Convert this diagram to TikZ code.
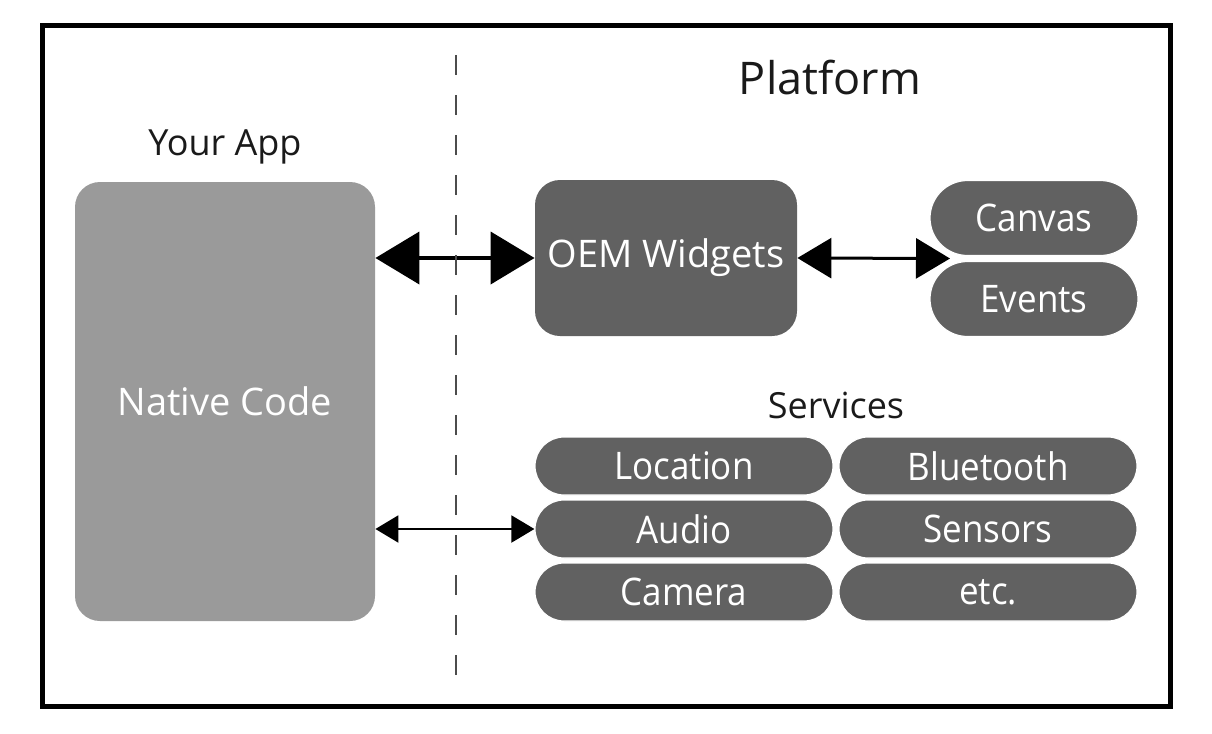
\documentclass[tikz,border=0pt]{standalone}
\usepackage{fontspec}
\setmainfont{Open Sans}
\newfontfamily\pillfont[FakeStretch=0.92]{Open Sans}
\usetikzlibrary{arrows.meta}
\definecolor{lightbox}{HTML}{9A9A9A}
\definecolor{darkbox}{HTML}{616161}
\definecolor{inktext}{HTML}{1A1A1A}
\tikzset{
  heading/.style={text=inktext, font=\fontsize{18}{20}\selectfont, inner sep=0pt},
  appbox/.style={fill=lightbox, rounded corners=12.5pt, inner sep=0pt, text=white,
    font=\fontsize{19}{21}\selectfont},
  oembox/.style={fill=darkbox, rounded corners=12.5pt, inner sep=0pt, text=white,
    font=\fontsize{19}{21}\selectfont},
  pill/.style={fill=darkbox, draw=white, line width=0.6pt, inner sep=0pt, text=white,
    font=\pillfont\fontsize{19}{21}\selectfont},
  bigarrow/.style={line width=2pt, {Triangle[length=22pt,width=26pt]}-{Triangle[length=22pt,width=26pt]}},
  midarrow/.style={line width=1.5pt, {Triangle[length=17pt,width=20pt]}-{Triangle[length=17pt,width=20pt]}},
  smallarrow/.style={line width=1pt, {Triangle[length=11.5pt,width=13.5pt]}-{Triangle[length=11.5pt,width=13.5pt]}}
}
\begin{document}
\begin{tikzpicture}[x=0.5pt, y=-0.5pt]
  \useasboundingbox (0,0) rectangle (1212,734);
  \draw[line width=2.5pt] (42.5,25) rectangle (1170,706);
  % headings
  \node[heading] (yourapp) at (225,147) {Your App};
  \node[heading, font=\fontsize{22.5}{24}\selectfont] (platform) at (830,78) {Platform};
  \node[heading] (services) at (836,405) {Services};
  % your app
  \node[appbox, minimum width=150pt, minimum height=219.5pt] (native) at (225,401.5) {Native Code};
  % platform
  \node[oembox, minimum width=131pt, minimum height=78pt] (oem) at (666,258) {OEM Widgets};
  \node[pill, minimum width=104pt, minimum height=37.5pt, rounded corners=18.75pt] (canvas) at (1034,218) {Canvas};
  \node[pill, minimum width=104pt, minimum height=37.5pt, rounded corners=18.75pt] (events) at (1034,299) {Events};
  \coordinate (ce) at (950,258.5);
  % services
  \foreach \name/\txt/\x/\y in {location/Location/684/466, audio/Audio/684/529, camera/Camera/684/592,
      bluetooth/Bluetooth/988/466, sensors/Sensors/988/529, etc/etc./988/592}
    \node[pill, minimum width=149pt, minimum height=29pt, rounded corners=14.5pt] (\name) at (\x,\y) {\txt};
  % connectors
  \draw[bigarrow] (native.east |- oem.west) -- (oem.west);
  \draw[midarrow] (oem.east) -- (ce);
  \draw[smallarrow] (native.east |- audio.west) -- (audio.west);
  % divider
  \draw[gray!60!black, line width=1pt, dash pattern=on 10pt off 10pt] (456,55) -- (456,675);
\end{tikzpicture}
\end{document}
